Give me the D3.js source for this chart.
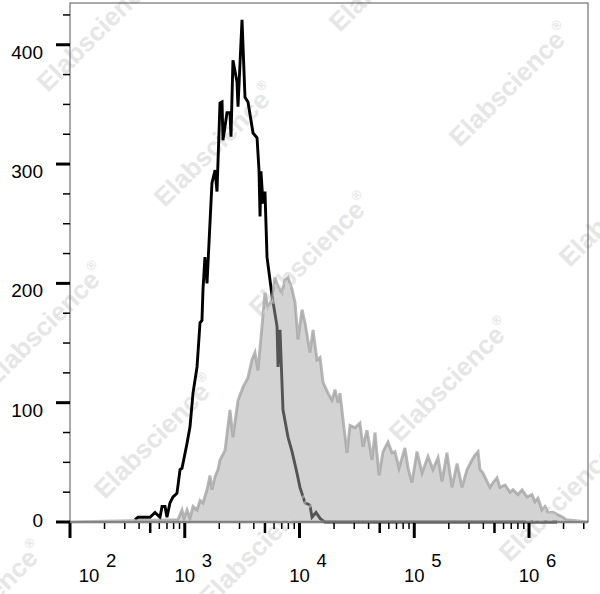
<!DOCTYPE html>
<html><head><meta charset="utf-8">
<script src="https://cdn.jsdelivr.net/npm/d3@7"></script>
<style>body{margin:0;background:#fff} svg{display:block} text{font-family:"Liberation Sans",Arial,Helvetica,sans-serif}</style>
</head><body><svg id="c" width="600" height="594"></svg>
<script>
// ---- data (log10 fluorescence, event count) ----
const blackLog = [2.566,2.593,2.697,2.741,2.784,2.802,2.828,2.845,2.871,2.898,2.932,2.959,2.976,3.020,3.046,3.072,3.107,3.133,3.150,3.159,3.176,3.194,3.237,3.264,3.281,3.307,3.325,3.333,3.368,3.394,3.403,3.420,3.455,3.464,3.499,3.525,3.551,3.595,3.630,3.647,3.656,3.664,3.682,3.699,3.717,3.760,3.804,3.813,3.830,3.856,3.900,3.935,3.978,4.004,4.048,4.091,4.109,4.144,4.179,4.205,4.222,6.244];
const blackCount = [2,4,4,8,4,13,13,4,16,21,24,44,45,66,80,108,130,167,169,195,222,200,284,295,277,351,352,320,343,343,323,387,369,348,421,356,352,326,322,295,256,294,267,277,222,190,164,130,161,94,71,59,41,29,16,14,4,8,3,1,0,0];

const grayLog = [2.000,2.941,2.976,2.993,3.020,3.046,3.072,3.107,3.133,3.159,3.194,3.220,3.237,3.264,3.290,3.307,3.351,3.394,3.420,3.464,3.508,3.551,3.586,3.612,3.638,3.673,3.699,3.725,3.760,3.786,3.813,3.847,3.874,3.900,3.935,3.961,3.987,4.022,4.048,4.091,4.118,4.152,4.179,4.205,4.248,4.283,4.309,4.336,4.353,4.379,4.414,4.440,4.484,4.527,4.553,4.588,4.632,4.658,4.693,4.728,4.771,4.806,4.832,4.867,4.919,4.946,4.980,5.024,5.068,5.120,5.163,5.207,5.242,5.285,5.329,5.373,5.416,5.460,5.503,5.529,5.556,5.573,5.599,5.634,5.660,5.686,5.721,5.747,5.791,5.834,5.861,5.904,5.939,5.983,6.026,6.052,6.078,6.113,6.139,6.166,6.209,6.253,6.296,6.322,6.514];
const grayCount = [0,2,10,3,10,3,13,10,18,16,27,39,27,38,44,52,60,94,71,102,113,121,136,142,127,164,192,180,186,205,197,192,203,205,195,184,153,178,167,142,161,136,138,117,108,102,111,100,108,86,58,81,79,83,63,77,52,75,39,59,67,58,59,45,62,45,33,59,41,55,44,54,34,58,29,49,29,44,52,56,59,44,41,34,29,33,37,29,31,25,27,23,27,21,23,17,20,10,13,8,8,6,4,2,0];

const yTickValues = [0,100,200,300,400];
const yMinorStep = 25;
const xDecades = [2,3,4,5,6];
const xMinorMultipliers = [2,3,4,5,6,7,8,9];
const watermarkText = "Elabscience";

// ---- layout ----
const svg = d3.select("#c");
const X0 = 70, X1 = 588, Y0 = 522, Y1 = 3;
const x = d3.scaleLog().domain([100, Math.pow(10, 6.514)]).range([X0, X1]);
const y = d3.scaleLinear().domain([0, 435]).range([Y0, Y1]);

const blackData = blackLog.map((l,i)=>[Math.pow(10,l), blackCount[i]]);
const grayData = grayLog.map((l,i)=>[Math.pow(10,l), grayCount[i]]);

// watermarks (under curves)
const wm = [[98,30],[390,-30],[510,85],[215,145],[310,255],[45,325],[450,380],[155,437],[620,205],[260,545],[-17,603],[560,500]];
const wmG = svg.append("g");
function drawWM(g, fill, op){
  wm.forEach(([cx,cy])=>{
    const t = g.append("text").attr("transform",`translate(${cx},${cy}) rotate(-45)`)
      .attr("text-anchor","middle").attr("dominant-baseline","central")
      .attr("font-size",26).attr("font-weight","bold").attr("fill",fill).attr("opacity",op)
      .text(watermarkText);
    t.append("tspan").attr("font-size",13).attr("dy",-10).text("®");
  });
}
drawWM(wmG, "#e6e6e6", 1);

// black histogram
svg.append("path").datum(blackData)
  .attr("d", d3.line().x(d=>x(d[0])).y(d=>y(d[1])))
  .attr("fill","none").attr("stroke","#000").attr("stroke-width",2.9).attr("stroke-linejoin","miter");

// gray histogram (semi-transparent over black)
const areaGen = d3.area().x(d=>x(d[0])).y0(y(0)).y1(d=>y(d[1]));
svg.append("defs").append("clipPath").attr("id","gclip").append("path").datum(grayData).attr("d", areaGen);
svg.append("path").datum(grayData).attr("d", areaGen)
  .attr("fill","rgb(168,168,168)").attr("fill-opacity",0.5)
  .attr("stroke","rgb(160,160,160)").attr("stroke-opacity",0.75).attr("stroke-width",2.9);
const wm2 = svg.append("g").attr("clip-path","url(#gclip)");
drawWM(wm2, "#e4e4e4", 0.45);

// frame
svg.append("rect").attr("x",X0).attr("y",Y1).attr("width",X1-X0).attr("height",Y0-Y1)
  .attr("fill","none").attr("stroke","#555").attr("stroke-width",1);

// y ticks
const yt = svg.append("g");
for(let v=0; v<=425; v+=yMinorStep){
  const major = yTickValues.includes(v);
  yt.append("line").attr("x1", major?56:63).attr("x2",X0).attr("y1",y(v)).attr("y2",y(v))
    .attr("stroke","#000").attr("stroke-width", major?3:1.5);
}
yTickValues.forEach(v=>{
  yt.append("text").attr("x",43).attr("y", v===0 ? y(v)+5 : y(v)+14)
    .attr("text-anchor","end").attr("font-size",19).attr("fill","#000").text(v);
});

// x ticks
const xt = svg.append("g");
xDecades.forEach(n=>{
  [1].concat(xMinorMultipliers).forEach(k=>{
    const v = k*Math.pow(10,n);
    if(v > x.domain()[1]) return;
    const len = k===1?15:(k===5?10:6);
    const w = k===1?3:(k===5?2.5:1.5);
    xt.append("line").attr("x1",x(v)).attr("x2",x(v)).attr("y1",Y0+1).attr("y2",Y0+1+len)
      .attr("stroke","#000").attr("stroke-width",w);
  });
  const cx = x(Math.pow(10,n)) + (n===2?19:0);
  xt.append("text").attr("x",cx).attr("y",582).attr("text-anchor","middle")
    .attr("font-size",18.5).attr("fill","#000").text("10");
  xt.append("text").attr("x",cx+17).attr("y",567).attr("text-anchor","start")
    .attr("font-size",18.5).attr("fill","#000").text(n);
});
</script></body></html>
